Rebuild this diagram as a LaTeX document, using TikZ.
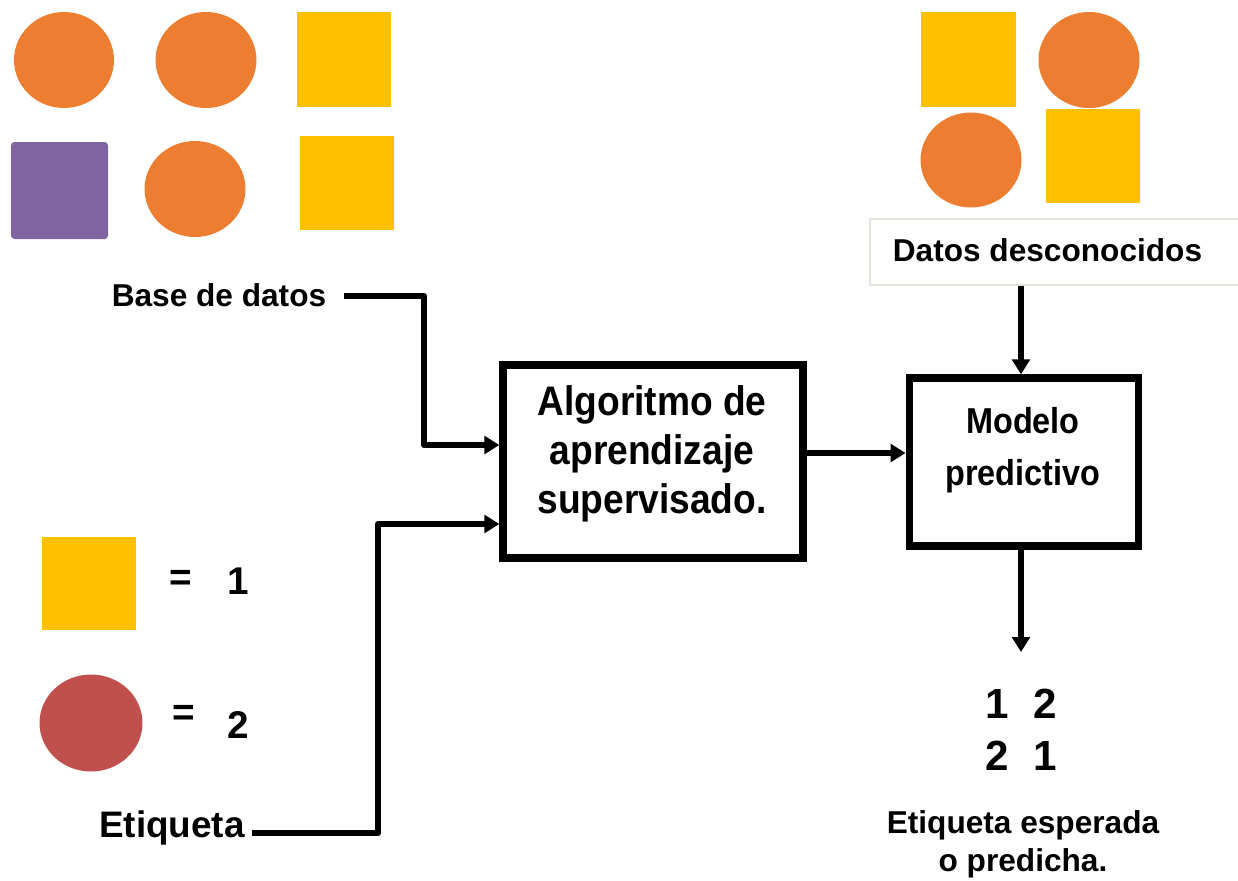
\documentclass[tikz,border=0pt]{standalone}
\usepackage{fontspec}
\setmainfont{Liberation Sans}
\newfontfamily\condfont{Liberation Sans}[FakeStretch=0.9]
\usetikzlibrary{arrows.meta}
\definecolor{orng}{HTML}{ED7D31}
\definecolor{yell}{HTML}{FFC000}
\definecolor{purp}{HTML}{8064A2}
\definecolor{redc}{HTML}{C0504D}
\definecolor{ddgray}{HTML}{E4E4DC}
\tikzset{
  lbl/.style={font=\fontsize{18}{21.5}\selectfont\bfseries, inner sep=0pt, align=center},
  biglbl/.style={font=\fontsize{21}{25}\selectfont\bfseries, inner sep=0pt},
  digit/.style={font=\fontsize{22}{26}\selectfont\bfseries, inner sep=0pt},
  outdigit/.style={font=\fontsize{24}{28}\selectfont\bfseries, inner sep=0pt},
  stagebox/.style={draw=black, line width=4.2pt, fill=white, inner sep=0pt},
  boxtxt/.style={font=\condfont\bfseries\fontsize{23.5}{27.9}\selectfont, align=center, inner sep=0pt},
  boxtxtb/.style={font=\condfont\bfseries\fontsize{20.5}{29.6}\selectfont, align=center, inner sep=0pt},
  conn/.style={line width=3.4pt, line join=round, -{Triangle[length=8.5pt,width=10pt]}},
}
\begin{document}
\begin{tikzpicture}[x=0.02cm,y=-0.02cm]
\useasboundingbox (0,0) rectangle (1238,880);
% training data
\fill[orng] (64,60) ellipse [x radius=1cm, y radius=0.96cm];
\fill[orng] (206,60) ellipse [x radius=1.01cm, y radius=0.96cm];
\fill[yell] (297,12) rectangle (391,107);
\fill[purp, rounded corners=2pt] (11,142) rectangle (108,239);
\fill[orng] (195,189) ellipse [x radius=1.01cm, y radius=0.96cm];
\fill[yell] (300,136) rectangle (394,230);
% unknown data
\fill[yell] (921,12) rectangle (1016,107);
\fill[orng] (1089,60) ellipse [x radius=1.01cm, y radius=0.96cm];
\fill[orng] (971,160) ellipse [x radius=1.01cm, y radius=0.95cm];
\fill[yell] (1046,109) rectangle (1140,203);
% legend
\fill[yell] (42,537) rectangle (136,630);
\fill[redc] (91,723) ellipse [x radius=1.03cm, y radius=0.97cm];
\node[digit] (eqa) at (181,580) {=};
\node[digit] (one) at (238,581) {1};
\node[digit] (eqb) at (184,715) {=};
\node[digit] (two) at (238,725) {2};

% labels
\node[lbl] (bd) at (219,295) {Base de datos};
\node[biglbl] (et) at (172,828) {Etiqueta};
\node[lbl, draw=ddgray, line width=0.8pt, minimum width=7.4cm, minimum height=1.32cm] (dd) at (1055,252) {\hspace*{-0.3cm}\raisebox{0.08cm}{Datos desconocidos}};

% boxes
\node[stagebox, minimum width=6cm, minimum height=3.86cm] (algo) at (653,461.5) {};
\node[boxtxt] (algotxt) at (652,454) {Algoritmo de\\aprendizaje\\supervisado.};
\node[stagebox, minimum width=4.59cm, minimum height=3.36cm] (model) at (1024,462) {};
\node[boxtxtb] (modeltxt) at (1023,450.5) {Modelo\\predictivo};

% outputs
\node[outdigit] (rowa) at (1021,704) {1\hspace{14pt}2};
\node[outdigit] (rowb) at (1021,756) {2\hspace{14pt}1};
\node[lbl] (exp) at (1023,844) {Etiqueta esperada\\o predicha.};

% connectors
\coordinate (bdturn) at (424,296);
\coordinate (etturn) at (378,833);
\coordinate (outtip) at (1021,652);
\draw[conn] ([xshift=0.34cm]bd.east |- bdturn) -- (bdturn) |- ([yshift=0.33cm]algo.west);
\draw[conn] ([xshift=0.14cm]et.east |- etturn) -- (etturn) |- ([yshift=-1.25cm]algo.west);
\draw[conn] ([yshift=0.17cm]algo.east) -- ([yshift=0.17cm]algo.east -| model.west);
\draw[conn] (outtip |- dd.south) -- (outtip |- model.north);
\draw[conn] (outtip |- model.south) -- (outtip);
\end{tikzpicture}
\end{document}
